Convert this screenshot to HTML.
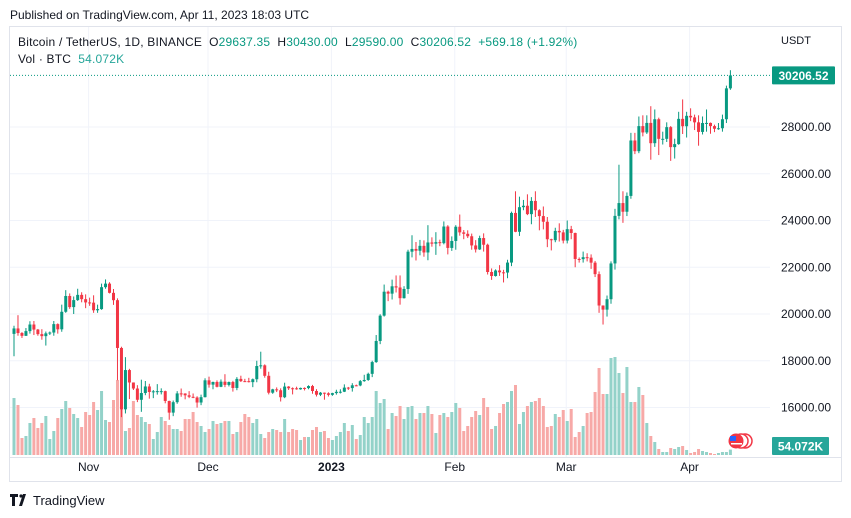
<!DOCTYPE html>
<html><head><meta charset="utf-8"><style>
html,body{margin:0;padding:0;background:#fff;}
svg{display:block;font-family:"Liberation Sans",sans-serif;}
</style></head><body>
<svg id="chart" width="851" height="518" viewBox="0 0 851 518" xmlns="http://www.w3.org/2000/svg">
<text x="10" y="19" font-size="12" fill="#131722">Published on TradingView.com, Apr 11, 2023 18:03 UTC</text>
<rect x="9.5" y="26.5" width="832" height="455" fill="none" stroke="#e0e3eb"/>
<g id="grid"></g>
<g id="vol"></g>
<g id="candles"></g>
<g id="axis"></g>
<g id="taxis"></g>
<text x="18" y="46" font-size="12" letter-spacing="0.2" fill="#131722" xml:space="preserve">Bitcoin / TetherUS, 1D, BINANCE  O<tspan fill="#089981">29637.35</tspan>  H<tspan fill="#089981">30430.00</tspan>  L<tspan fill="#089981">29590.00</tspan>  C<tspan fill="#089981">30206.52</tspan>  <tspan fill="#089981">+569.18 (+1.92%)</tspan></text>
<text x="18" y="63" font-size="12" letter-spacing="0.2" fill="#131722" xml:space="preserve">Vol · BTC  <tspan fill="#26a69a">54.072K</tspan></text>
<text x="781" y="44" font-size="11" fill="#131722">USDT</text>
<g>
<circle cx="745" cy="441" r="7" fill="#fff" stroke="#f23645" stroke-width="1.5"/>
<circle cx="741" cy="441" r="7" fill="#fff" stroke="#f23645" stroke-width="1.5"/>
<circle cx="736" cy="441" r="7.5" fill="#f23645"/>
<rect x="730" y="436" width="6" height="5" fill="#2962ff"/>
<rect x="731" y="443" width="11" height="1.5" fill="#fff"/>
</g>
<g>
<path d="M10 494h8v3h-3v9h-3v-9h-2z M19 506l4-12h3l-4 12z" fill="#131722"/>
<circle cx="21" cy="496" r="1.6" fill="#131722"/>
<text x="33" y="505" font-size="13" fill="#131722">TradingView</text>
</g>
</svg>
<script>
const closes=[19382,19185,19067,19268,19550,19334,19139,19053,19172,19207,19567,19345,20095,20771,20295,20595,20818,20635,20495,
20485,20159,20209,21148,21300,20905,20591,18547,15922,17602,17070,16812,16330,16619,16900,16663,16692,16700,16700,16280,15781,16227,16603,16599,16522,16458,16428,16213,16442,17163,
16978,17092,16885,17105,16967,17089,16836,17224,17128,17127,17085,17209,17775,17804,17356,16633,16777,16738,16439,16896,16824,16821,16778,16837,16830,16917,16706,16547,16633,16607,16542,
16616,16672,16675,16851,16831,16950,16943,17127,17178,17440,17943,18846,19930,20954,20871,21185,21134,20677,21071,22667,22783,22707,22916,22632,23060,23009,23074,23031,23743,22827,23125,
23733,23492,23431,23326,22933,22762,23249,22963,21797,21625,21862,21783,21773,22200,24324,23517,24570,24631,24272,24837,24440,24189,23947,23198,23158,23555,23492,23141,
23629,23466,22354,22346,22430,22410,22197,21705,20363,20187,20633,22163,24197,24746,24375,25052,27423,26965,28038,27767,28175,27307,28333,27493,27494,27994,27139,27268,28348,28033,28478,
28411,28199,27790,28170,28175,28038,27925,27947,28333,29653,30206.52];
const firstOpen=19150;
const highs=[19500,19950,19226,19400,19690,19700,19360,19350,19250,19250,19700,19600,20400,21020,20880,20750,21080,20930,20840,
20700,20800,20400,21300,21480,21360,21070,20670,18600,18154,17655,17072,16955,17190,17134,17015,16749,17000,16820,16720,16290,16300,16700,16812,16610,16700,16600,16480,16550,17250,
17320,17105,17160,17200,17425,17110,17140,17300,17360,17227,17270,17240,18000,18387,17846,17530,16800,16860,16820,17061,16915,16860,16890,16850,16860,16950,16970,16784,16664,16640,16650,
16630,16760,16780,16990,16880,17040,16980,17176,17400,17490,18000,19100,19990,21260,21000,21470,21650,21650,21190,22750,23370,23080,23170,23150,23800,23280,23500,23180,23960,23800,23320,
23800,24255,23590,23580,23440,23160,23350,23450,23010,21950,21910,22090,21890,22320,24380,25250,25020,24880,25120,25000,25250,24480,24600,24150,23220,23690,23880,23600,
24000,23770,23480,22420,22670,22600,22550,22270,21820,20370,20790,22250,24500,26386,25250,25200,27750,27750,28450,28500,28500,28890,28750,28400,27800,28200,28040,27500,28650,29180,28650,
28800,28530,28500,28450,28750,28190,28100,28170,28530,29770,30430];
const lows=[18190,19070,18975,19060,19160,19100,19070,18900,18650,19100,19070,19160,19240,20050,20220,20000,20560,20500,20250,
20350,20050,20050,20180,21080,20880,20390,17166,15588,15746,16361,16748,16230,15815,16527,16378,16400,16550,16560,16180,15476,15630,16160,16460,16350,16400,16400,15995,16100,16430,
16850,16780,16860,16870,16870,16900,16680,16740,17090,17090,17070,16870,17080,17660,17275,16560,16585,16660,16256,16400,16750,16560,16760,16760,16730,16780,16590,16470,16490,16333,16470,
16500,16550,16600,16660,16750,16680,16910,16910,17100,17140,17300,17910,18710,19890,20550,20620,20920,20400,20660,20860,22420,22290,22510,22450,22300,22880,22530,22900,22980,22550,22700,
22750,23350,23200,23250,22750,22630,22740,22670,21690,21460,21600,21630,21350,21530,22050,23500,23340,24440,24230,23840,24150,23580,23620,22860,22720,23070,23100,23020,
23020,23200,22000,22200,22200,22250,21930,21580,20050,19549,19890,20440,21900,24050,23900,24190,24930,26840,26880,27600,27700,26600,27150,26800,27250,27360,26550,26650,27240,27700,27550,
28250,27870,27200,27680,27800,27710,27780,27880,27800,28170,29590];
const volumes=[570,500,170,190,320,370,270,320,390,160,240,370,460,540,470,410,370,280,430,400,530,450,640,350,330,550,750,560,240,270,540,400,380,330,310,160,230,380,340,300,260,260,240,360,360,430,330,290,230,260,340,310,320,340,340,210,230,330,410,380,320,360,210,170,
230,260,250,230,
360,230,260,250,150,180,180,250,280,230,240,170,150,190,230,320,240,300,160,200,
380,320,380,640,520,560,260,420,390,490,360,480,490,360,420,420,490,410,220,400,420,380,430,520,470,240,290,380,440,400,570,480,260,290,420,510,530,640,700,310,430,490,530,540,570,490,280,290,410,380,450,340,460,180,230,290,420,430,630,870,610,610,970,980,820,620,880,530,530,680,600,320,190,130,
60,30,30,70,60,80,90,50,20,30,60,40,30,20,10,20,30,30,54];
const priceTicks=[16000,18000,20000,22000,24000,26000,28000];
const monthLabels=["Nov","Dec","2023","Feb","Mar","Apr"];
const monthIndex=[19,49,80,111,139,170];
const lastPrice=30206.52;
const lastVolLabel="54.072K";

const NS="http://www.w3.org/2000/svg";
const X0=14,STEP=3.98,PLOT_R=770,VOL_BASE=455;
const xAt=i=>X0+i*STEP;
const yP=p=>127+(28000-p)*0.023375;
const vH=v=>v*0.1;
const UP="#089981",DN="#f23645";
function mk(tag,attrs,parent){const e=document.createElementNS(NS,tag);for(const k in attrs)e.setAttribute(k,attrs[k]);parent.appendChild(e);return e;}
const grid=document.getElementById('grid'),cg=document.getElementById('candles'),vg=document.getElementById('vol'),ax=document.getElementById('axis'),tx=document.getElementById('taxis');
priceTicks.forEach(p=>{
  const l=mk('line',{x1:10,x2:PLOT_R,y1:yP(p),y2:yP(p),stroke:'#f0f3fa','stroke-width':1},grid);
  
  
  const t=mk('text',{x:781,y:yP(p)+4,'font-size':12,fill:'#131722'},ax);
  t.textContent=p.toFixed(2);
  
  
});
monthIndex.forEach((idx,k)=>{
  const x=xAt(idx)-1;
  const l=mk('line',{x1:x,x2:x,y1:27,y2:457,stroke:'#f0f3fa','stroke-width':1},grid);
  
  
  const t=mk('text',{x:x,y:471,'font-size':12,fill:'#131722','text-anchor':'middle','font-weight':monthLabels[k]==="2023"?'bold':'normal'},tx);
  t.textContent=monthLabels[k];
  
  
});
const sep=mk('line',{x1:10,x2:842,y1:457.5,y2:457.5,stroke:'#e0e3eb'},grid);


closes.forEach((c,i)=>{
  const o=i===0?firstOpen:closes[i-1];
  const up=c>=o, col=up?UP:DN, x=xAt(i);
  const h=vH(volumes[i]);
  const vb=mk('rect',{x:x-1.5,y:VOL_BASE-h,width:3,height:h,fill:up?'#93d2c9':'#f7a9a7'},vg);
  
  
  const w=mk('line',{x1:x,x2:x,y1:yP(highs[i]),y2:yP(lows[i]),stroke:col,'stroke-width':1},cg);
  
  
  const top=yP(Math.max(o,c)),bh=Math.max(1,yP(Math.min(o,c))-top);
  const b=mk('rect',{x:x-1.5,y:top,width:3,height:bh,fill:col},cg);
  
  
});
const pl=mk('line',{x1:10,x2:PLOT_R,y1:yP(lastPrice),y2:yP(lastPrice),stroke:UP,'stroke-width':1,'stroke-dasharray':'1,2'},ax);


const pb=mk('rect',{x:772,y:yP(lastPrice)-9,width:63,height:18,fill:UP,rx:1},ax);


const pt=mk('text',{x:803.5,y:yP(lastPrice)+4.5,'font-size':12,'font-weight':'bold',fill:'#fff','text-anchor':'middle'},ax);
pt.textContent=lastPrice.toFixed(2);


const vbx=mk('rect',{x:772,y:437,width:57,height:18,fill:'#26a69a',rx:1},ax);


const vt=mk('text',{x:800.5,y:450.5,'font-size':12,'font-weight':'bold',fill:'#fff','text-anchor':'middle'},ax);
vt.textContent=lastVolLabel;


</script>
</body></html>
